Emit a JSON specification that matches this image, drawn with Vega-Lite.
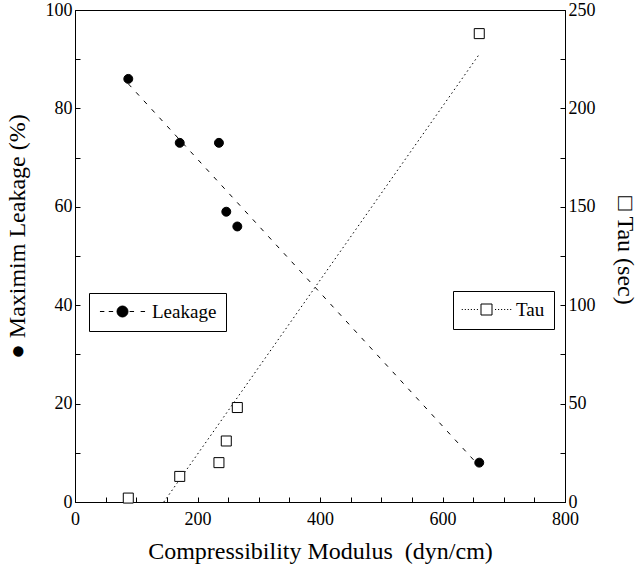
{
  "$schema": "https://vega.github.io/schema/vega-lite/v6.json",
  "width": 490,
  "height": 492,
  "autosize": {"type": "none"},
  "padding": {"left": 75, "top": 10, "right": 75, "bottom": 66},
  "background": "white",
  "config": {
    "view": {"stroke": "black", "strokeWidth": 1},
    "font": "Liberation Serif, Times New Roman, DejaVu Serif, serif",
    "axis": {
      "domainColor": "black", "tickColor": "black", "labelColor": "black", "titleColor": "black",
      "labelFont": "Liberation Serif, Times New Roman, DejaVu Serif, serif",
      "titleFont": "Liberation Serif, Times New Roman, DejaVu Sans, serif",
      "labelFontSize": 18, "titleFontSize": 24, "titleFontWeight": "normal",
      "grid": false, "tickSize": -5, "domainWidth": 1, "tickWidth": 1
    },
    "axisX": {
      "values": [0, 100, 200, 300, 400, 500, 600, 700, 800],
      "labelExpr": "datum.value % 200 === 0 ? datum.label : ''",
      "labelPadding": 13,
      "labelFlush": false,
      "titleY": 37,
      "titleBaseline": "top"
    },
    "legend": {
      "orient": "none", "title": null, "strokeColor": "black", "padding": 9, "fillColor": "white",
      "labelFont": "Liberation Serif, Times New Roman, DejaVu Serif, serif",
      "labelFontSize": 19, "labelColor": "black",
      "symbolSize": 121, "symbolOffset": 15, "labelOffset": 20, "symbolStrokeWidth": 1,
      "symbolStrokeColor": "black"
    }
  },
  "datasets": {
    "points": [
      {"modulus": 87, "leakage": 86, "tau": 2},
      {"modulus": 171, "leakage": 73, "tau": 13},
      {"modulus": 235, "leakage": 73, "tau": 20},
      {"modulus": 247, "leakage": 59, "tau": 31},
      {"modulus": 265, "leakage": 56, "tau": 48},
      {"modulus": 660, "leakage": 8, "tau": 238}
    ],
    "leakfit": [
      {"modulus": 87, "leakage": 85},
      {"modulus": 660, "leakage": 7.3}
    ],
    "taufit": [
      {"modulus": 145, "tau": 0},
      {"modulus": 660, "tau": 227.5}
    ]
  },
  "layer": [
    {
      "layer": [
        {
          "data": {"name": "leakfit"},
          "mark": {"type": "line", "color": "black", "strokeWidth": 1, "strokeDash": [4.5, 7]},
          "encoding": {
            "x": {"field": "modulus", "type": "quantitative", "scale": {"domain": [0, 800], "nice": false}, "title": "Compressibility Modulus\u00a0\u00a0(dyn/cm)"},
            "y": {"field": "leakage", "type": "quantitative", "scale": {"domain": [0, 100], "nice": false},
              "axis": {"orient": "left", "values": [0, 10, 20, 30, 40, 50, 60, 70, 80, 90, 100],
                "labelExpr": "datum.value % 20 === 0 ? datum.label : ''",
                "labelPadding": 8, "title": "\u25cf Maximim Leakage (%)", "titleX": -46, "titleY": 226}}
          }
        },
        {
          "data": {"name": "points"},
          "mark": {"type": "point", "filled": true, "fill": "black", "stroke": "black", "strokeWidth": 1, "size": 80, "opacity": 1},
          "encoding": {
            "x": {"field": "modulus", "type": "quantitative", "title": "Compressibility Modulus\u00a0\u00a0(dyn/cm)"},
            "y": {"field": "leakage", "type": "quantitative"},
            "color": {"datum": "Leakage", "type": "nominal", "scale": {"range": ["black"]},
              "legend": {"legendX": 14, "legendY": 283,
                "symbolType": "M-4.1,0L-3.3,0M-2.5,0L-1.7,0M1.3,0L2.1,0M3.3,0L4.1,0M-1,0A1,1,0,1,1,1,0A1,1,0,1,1,-1,0Z",
                "symbolFillColor": "black"}}
          }
        }
      ]
    },
    {
      "layer": [
        {
          "data": {"name": "taufit"},
          "mark": {"type": "line", "color": "black", "strokeWidth": 1, "strokeDash": [1.5, 3]},
          "encoding": {
            "x": {"field": "modulus", "type": "quantitative", "title": "Compressibility Modulus\u00a0\u00a0(dyn/cm)"},
            "y": {"field": "tau", "type": "quantitative", "scale": {"domain": [0, 250], "nice": false},
              "axis": {"orient": "right", "values": [0, 25, 50, 75, 100, 125, 150, 175, 200, 225, 250],
                "labelExpr": "datum.value % 50 === 0 ? datum.label : ''",
                "labelPadding": 8, "title": "\u25a1 Tau (sec)", "titleX": 47, "titleY": 240}}
          }
        },
        {
          "data": {"name": "points"},
          "mark": {"type": "point", "shape": "square", "filled": false, "fill": "white", "stroke": "black", "strokeWidth": 1, "size": 100, "opacity": 1},
          "encoding": {
            "x": {"field": "modulus", "type": "quantitative", "title": "Compressibility Modulus\u00a0\u00a0(dyn/cm)"},
            "y": {"field": "tau", "type": "quantitative"},
            "stroke": {"datum": "Tau", "type": "nominal", "scale": {"range": ["black"]},
              "legend": {"legendX": 378, "legendY": 281,
                "symbolType": "M-4.5,0L-4.3,0M-3.95,0L-3.75,0M-3.4,0L-3.2,0M-2.85,0L-2.65,0M-2.3,0L-2.1,0M-1.75,0L-1.55,0M1.55,0L1.75,0M2.1,0L2.3,0M2.65,0L2.85,0M3.2,0L3.4,0M3.75,0L3.95,0M4.3,0L4.5,0M-1,-1L1,-1L1,1L-1,1Z",
                "symbolFillColor": "white"}}
          }
        }
      ]
    }
  ],
  "resolve": {"scale": {"y": "independent"}}
}
